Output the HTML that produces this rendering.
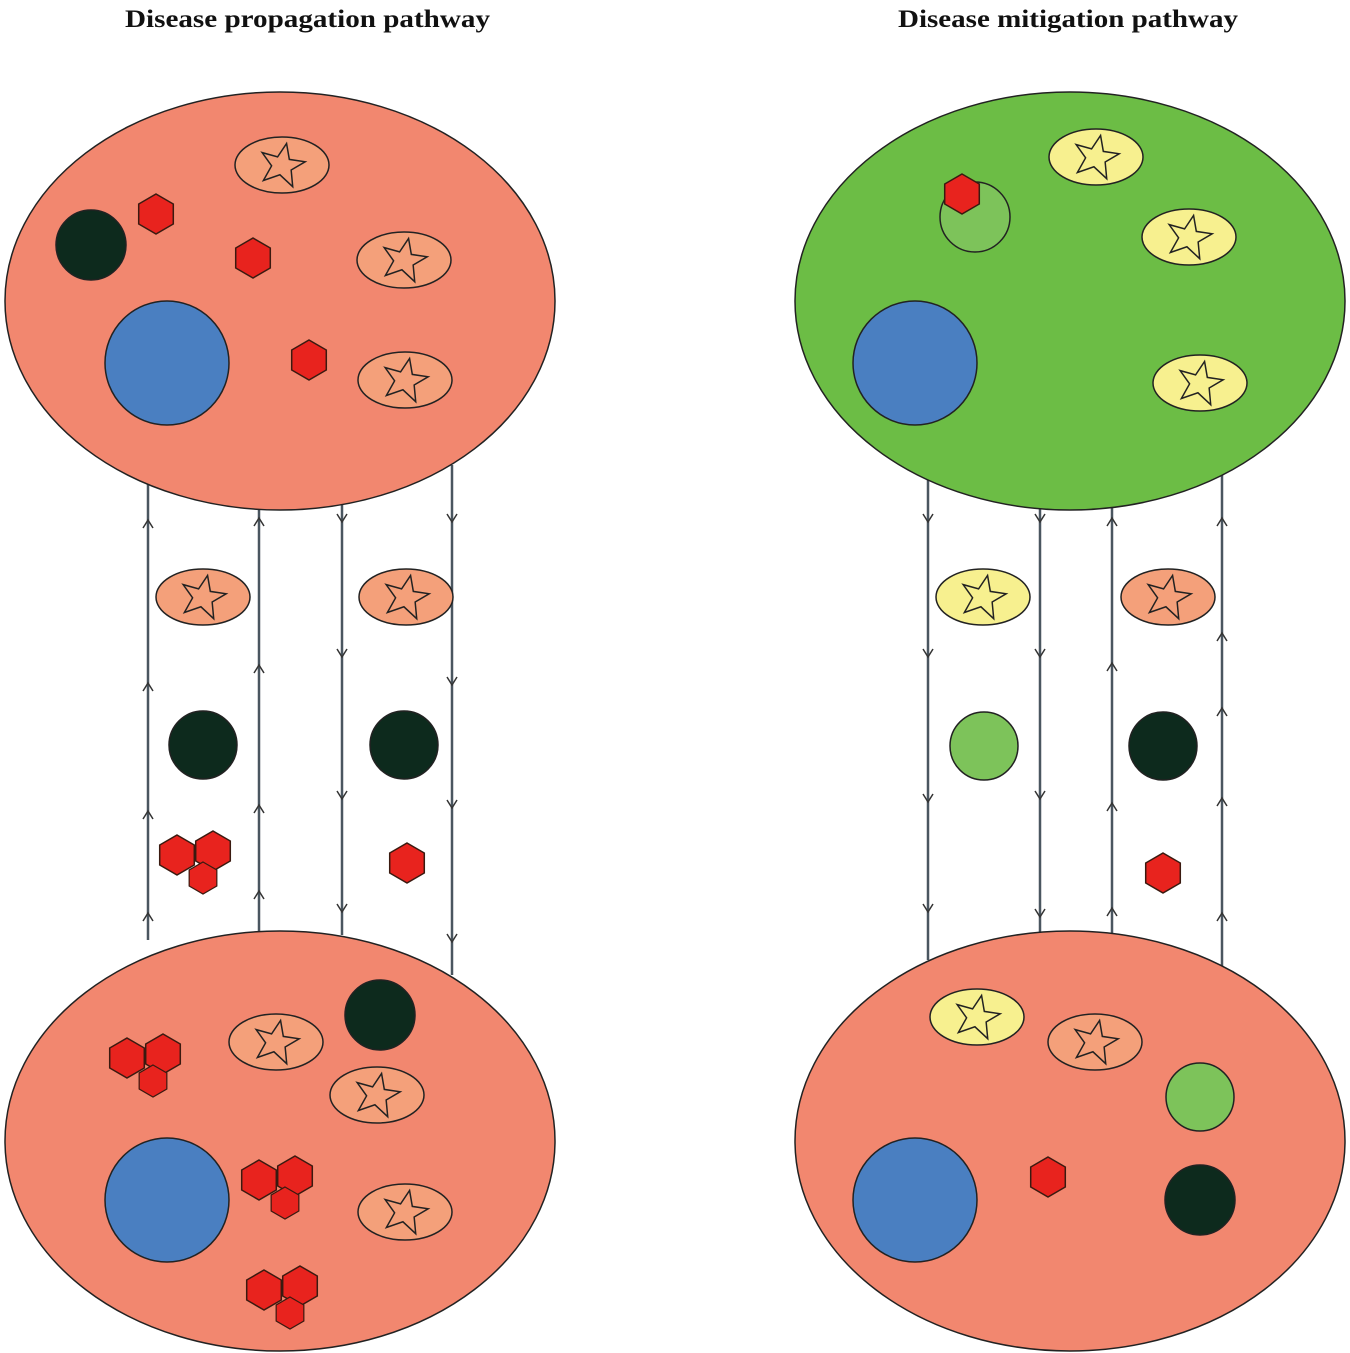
<!DOCTYPE html>
<html><head><meta charset="utf-8"><style>html,body{margin:0;padding:0;background:#fff}svg{display:block}</style></head>
<body>
<svg width="1350" height="1353" viewBox="0 0 1350 1353" xmlns="http://www.w3.org/2000/svg">
<defs>
<polygon id="hx" points="0,-20 17.3,-10 17.3,10 0,20 -17.3,10 -17.3,-10" fill="#e8231e" stroke="#3a1a10" stroke-width="1.5"/>
<g id="cl"><use href="#hx" transform="translate(-18,-5)"/><use href="#hx" transform="translate(18,-9)"/><use href="#hx" transform="translate(8,18) scale(0.8)"/></g>
<polygon id="st" points="0,-22 6,-7 22,-8 10,3 15,19 0,10 -15,19 -10,3 -22,-8 -6,-7" fill="none" stroke="#222" stroke-width="1.5" transform="rotate(12)"/>
<g id="es"><ellipse rx="47" ry="28" fill="#f4a07a" stroke="#222" stroke-width="1.5"/><use href="#st"/></g>
<g id="ey"><ellipse rx="47" ry="28" fill="#f7f08f" stroke="#222" stroke-width="1.5"/><use href="#st"/></g>
<path id="au" d="M-5,6 L0,-2 L5,6" fill="none" stroke="#333" stroke-width="1.5"/>
<path id="ad" d="M-5,-6 L0,2 L5,-6" fill="none" stroke="#333" stroke-width="1.5"/>
</defs>
<g font-family="Liberation Serif, serif" font-weight="bold" font-size="25" fill="#111">
<text x="125" y="27" textLength="365" lengthAdjust="spacingAndGlyphs">Disease propagation pathway</text>
<text x="898" y="27" textLength="340" lengthAdjust="spacingAndGlyphs">Disease mitigation pathway</text>
</g>
<!-- lines -->
<g stroke="#4a5660" stroke-width="2.5">
<line x1="148" y1="480" x2="148" y2="940"/><line x1="259" y1="505" x2="259" y2="935"/>
<line x1="342" y1="505" x2="342" y2="935"/><line x1="452" y1="465" x2="452" y2="975"/>
<line x1="928" y1="480" x2="928" y2="960"/><line x1="1040" y1="505" x2="1040" y2="935"/>
<line x1="1112" y1="505" x2="1112" y2="935"/><line x1="1222" y1="475" x2="1222" y2="975"/>
</g>
<g>
<use href="#au" x="148" y="522"/><use href="#au" x="148" y="685"/><use href="#au" x="148" y="813"/><use href="#au" x="148" y="915"/>
<use href="#au" x="259" y="520"/><use href="#au" x="259" y="667"/><use href="#au" x="259" y="807"/><use href="#au" x="259" y="893"/>
<use href="#ad" x="342" y="520"/><use href="#ad" x="342" y="655"/><use href="#ad" x="342" y="797"/><use href="#ad" x="342" y="910"/>
<use href="#ad" x="452" y="520"/><use href="#ad" x="452" y="683"/><use href="#ad" x="452" y="806"/><use href="#ad" x="452" y="940"/>
<use href="#ad" x="928" y="520"/><use href="#ad" x="928" y="655"/><use href="#ad" x="928" y="800"/><use href="#ad" x="928" y="910"/>
<use href="#ad" x="1040" y="520"/><use href="#ad" x="1040" y="655"/><use href="#ad" x="1040" y="797"/><use href="#ad" x="1040" y="915"/>
<use href="#au" x="1112" y="520"/><use href="#au" x="1112" y="665"/><use href="#au" x="1112" y="805"/><use href="#au" x="1112" y="910"/>
<use href="#au" x="1222" y="520"/><use href="#au" x="1222" y="635"/><use href="#au" x="1222" y="710"/><use href="#au" x="1222" y="800"/><use href="#au" x="1222" y="915"/>
</g>
<!-- big ellipses -->
<g stroke="#222" stroke-width="1.5">
<ellipse cx="280" cy="301" rx="275" ry="209" fill="#f2876f"/>
<ellipse cx="280" cy="1141" rx="275" ry="210" fill="#f2876f"/>
<ellipse cx="1070" cy="301" rx="275" ry="209" fill="#6cbd45"/>
<ellipse cx="1070" cy="1141" rx="275" ry="210" fill="#f2876f"/>
</g>
<g stroke="#222" stroke-width="1.5">
<!-- top left -->
<circle cx="91" cy="245" r="35" fill="#0d2a1d"/>
<circle cx="167" cy="363" r="62" fill="#4a7fc1"/>
<!-- bottom left -->
<circle cx="380" cy="1015" r="35" fill="#0d2a1d"/>
<circle cx="167" cy="1200" r="62" fill="#4a7fc1"/>
<!-- top right -->
<circle cx="975" cy="217" r="35" fill="#7dc35a"/>
<circle cx="915" cy="363" r="62" fill="#4a7fc1"/>
<!-- bottom right -->
<circle cx="1200" cy="1097" r="34" fill="#7dc35a"/>
<circle cx="1200" cy="1200" r="35" fill="#0d2a1d"/>
<circle cx="915" cy="1200" r="62" fill="#4a7fc1"/>
<!-- channels -->
<circle cx="203" cy="745" r="34" fill="#0d2a1d"/>
<circle cx="404" cy="745" r="34" fill="#0d2a1d"/>
<circle cx="984" cy="746" r="34" fill="#7dc35a"/>
<circle cx="1163" cy="746" r="34" fill="#0d2a1d"/>
</g>
<use href="#hx" x="156" y="214"/><use href="#hx" x="253" y="258"/><use href="#hx" x="309" y="360"/>
<use href="#hx" x="962" y="194"/>
<use href="#hx" x="1048" y="1177"/>
<use href="#hx" x="407" y="863"/>
<use href="#hx" x="1163" y="873"/>
<use href="#cl" x="195" y="860"/>
<use href="#cl" x="145" y="1063"/>
<use href="#cl" x="277" y="1185"/>
<use href="#cl" x="282" y="1295"/>
<use href="#es" x="282" y="165"/><use href="#es" x="404" y="260"/><use href="#es" x="405" y="380"/>
<use href="#es" x="276" y="1042"/><use href="#es" x="377" y="1095"/><use href="#es" x="405" y="1212"/>
<use href="#ey" x="1096" y="157"/><use href="#ey" x="1189" y="237"/><use href="#ey" x="1200" y="383"/>
<use href="#ey" x="977" y="1017"/><use href="#es" x="1095" y="1042"/>
<use href="#es" x="203" y="597"/><use href="#es" x="406" y="597"/>
<use href="#ey" x="983" y="597"/><use href="#es" x="1168" y="597"/>
</svg>
</body></html>
